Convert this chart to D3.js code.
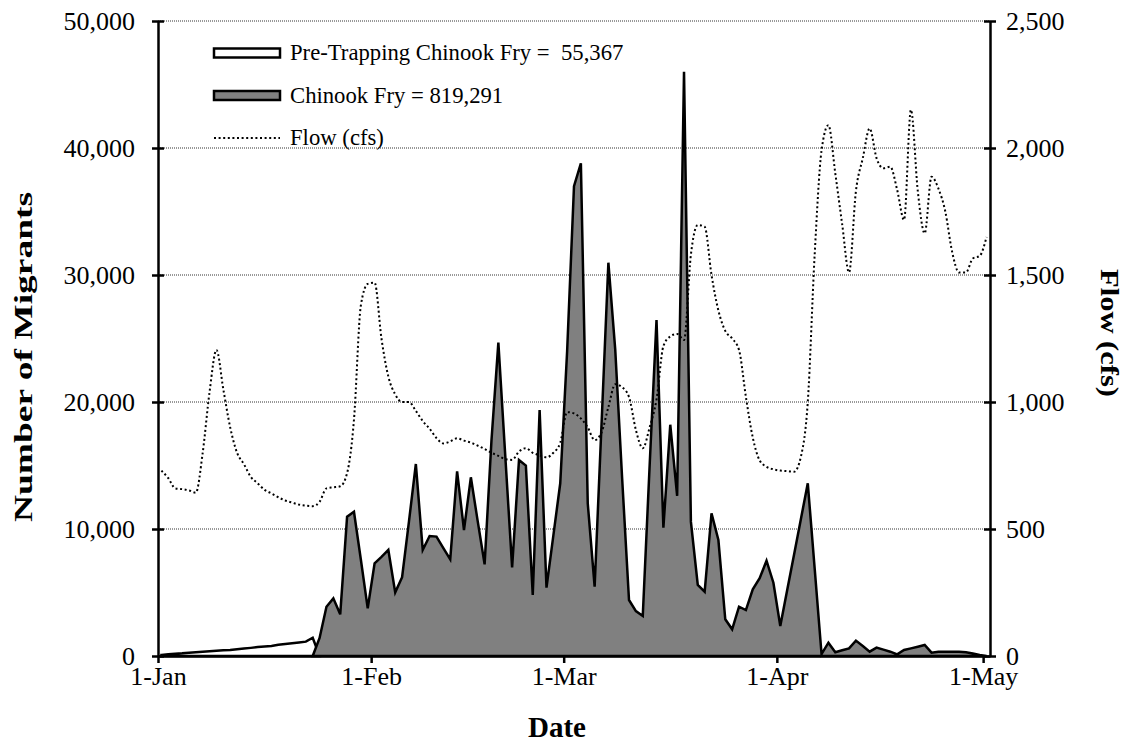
<!DOCTYPE html>
<html lang="en">
<head>
<meta charset="UTF-8">
<title>Chinook Fry Migrants and Flow</title>
<script src="https://cdn.jsdelivr.net/npm/d3@7"></script>
<style>
    body { margin: 0; background: #fff; }
    text { font-family: "Liberation Serif", "Times New Roman", serif; fill: #000; }
    .axis text { font-size: 26px; }
    .axis path, .axis line { stroke: #000; stroke-width: 2.5px; }
    .axis-title { font-size: 29px; font-weight: bold; }
    .axis-title.side { font-size: 26px; }
    .legend text { font-size: 22.7px; white-space: pre; }
    .grid line { stroke: #333; stroke-width: 1px; stroke-dasharray: 1,1; }
</style>
</head>
<body>
<svg id="chart" width="1132" height="756"></svg>
<script>
// daily values, first entry = Jan 1
const startDate = "2019-01-01";

// pre-trapping estimate, Jan 1 .. Jan 24
const preTrapping = [80, 130, 180, 210, 260, 300, 340, 380, 420, 450, 470, 540,
    590, 640, 700, 740, 790, 880, 950, 1000, 1060, 1130, 1440, 0];

// chinook fry catch, Jan 23 .. May 1
const chinookStart = "2019-01-23";
const chinookFry = [0, 1420, 3880, 4540, 3280, 10970, 11360, 7600, 3750,
    7300, 7800, 8350, 5010, 6200, 10600, 15120, 8350, 9450, 9400, 8500, 7610,
    14540, 9920, 14070, 10600, 7220, 17000, 24670, 15800, 6980, 15430, 14990,
    4800, 19370, 5380, 9500, 13600, 24000, 37000, 38800, 12020, 5460, 18200,
    30970, 24100, 14000, 4410, 3540, 3150, 15000, 26460, 10100, 18210, 12600,
    46000, 10580, 5590, 5060, 11230, 9130, 2890, 2100, 3880, 3620, 5250, 6120,
    7500, 5770, 2360, 5170, 7980, 10790, 13600, 6900, 150, 1050, 290, 450,
    600, 1210, 780, 340, 660, 500, 340, 130, 470, 600, 730, 870, 260, 340,
    340, 340, 340, 300, 200, 80, 0];

// river flow (cfs), Jan 1 .. May 1
const flowCfs = [730, 700, 660, 657, 652, 643, 800, 1040, 1205, 1050, 900,
    800, 755, 705, 680, 654, 640, 625, 612, 604, 596, 592, 590, 607, 660, 664,
    668, 720, 930, 1380, 1465, 1470, 1250, 1100, 1030, 1000, 1000, 965, 925,
    895, 858, 837, 845, 857, 848, 840, 828, 815, 800, 788, 775, 772, 805, 818,
    800, 790, 782, 800, 840, 960, 955, 935, 900, 850, 880, 980, 1070, 1058,
    1020, 890, 818, 900, 1010, 1220, 1258, 1268, 1244, 1580, 1697, 1690, 1500,
    1360, 1280, 1250, 1205, 1020, 860, 770, 745, 735, 730, 728, 725, 785,
    1000, 1580, 1990, 2090, 1900, 1700, 1510, 1830, 1960, 2077, 1960, 1920,
    1926, 1835, 1717, 2150, 1830, 1664, 1887, 1840, 1750, 1590, 1510, 1510,
    1565, 1575, 1650];

const dateTicks = ["2019-01-01", "2019-02-01", "2019-03-01", "2019-04-01", "2019-05-01"];
const migrantTicks = [0, 10000, 20000, 30000, 40000, 50000];
const flowTicks = [0, 500, 1000, 1500, 2000, 2500];

const legendItems = [
    { label: "Pre-Trapping Chinook Fry =  55,367", type: "pre" },
    { label: "Chinook Fry = 819,291", type: "fry" },
    { label: "Flow (cfs)", type: "flow" }
];

const parse = d3.timeParse("%Y-%m-%d");
const day0 = parse(startDate);
const fry0 = parse(chinookStart);

const preData = preTrapping.map((v, i) => ({ date: d3.timeDay.offset(day0, i), v }));
const fryData = chinookFry.map((v, i) => ({ date: d3.timeDay.offset(fry0, i), v }));
const flowData = flowCfs.map((v, i) => ({ date: d3.timeDay.offset(day0, i), v }));

const plot = { left: 158, right: 990, top: 21, bottom: 656 };

const svg = d3.select("#chart");

// category-style date axis: each day is a slot, points sit in the middle
const x = d3.scaleTime()
    .domain([day0, d3.timeDay.offset(day0, 121)])
    .range([plot.left, plot.right]);
const xMid = d => x(d3.timeHour.offset(d, 12));

const y = d3.scaleLinear().domain([0, 50000]).range([plot.bottom, plot.top]);
const yFlow = d3.scaleLinear().domain([0, 2500]).range([plot.bottom, plot.top]);

// gridlines
svg.append("g")
    .attr("class", "grid")
    .selectAll("line")
    .data(migrantTicks.slice(1))
    .join("line")
    .attr("x1", plot.left)
    .attr("x2", plot.right)
    .attr("y1", d => y(d))
    .attr("y2", d => y(d));

const area = d3.area()
    .x(d => xMid(d.date))
    .y0(y(0))
    .y1(d => y(d.v));

svg.append("path")
    .datum(preData)
    .attr("d", area)
    .attr("fill", "#fff")
    .attr("stroke", "#000")
    .attr("stroke-width", 2.5)
    .attr("stroke-linejoin", "miter");

svg.append("path")
    .datum(fryData)
    .attr("d", area)
    .attr("fill", "#808080")
    .attr("stroke", "#000")
    .attr("stroke-width", 2.5)
    .attr("stroke-linejoin", "miter");

svg.append("path")
    .datum(flowData)
    .attr("d", d3.line()
        .curve(d3.curveMonotoneX)
        .x(d => xMid(d.date))
        .y(d => yFlow(d.v)))
    .attr("fill", "none")
    .attr("stroke", "#000")
    .attr("stroke-width", 2)
    .attr("stroke-dasharray", "2,2.6");

// axes
const xAxis = svg.append("g")
    .attr("class", "axis")
    .attr("transform", `translate(0,${plot.bottom})`)
    .call(d3.axisBottom(x)
        .tickValues(dateTicks.map(parse))
        .tickFormat(d3.timeFormat("%-d-%b"))
        .tickSize(7)
        .tickSizeOuter(0));
xAxis.selectAll("text").attr("y", 29).attr("dy", 0);

const yAxis = svg.append("g")
    .attr("class", "axis")
    .attr("transform", `translate(${plot.left},0)`)
    .call(d3.axisLeft(y)
        .tickValues(migrantTicks)
        .tickFormat(d3.format(","))
        .tickSize(6)
        .tickSizeOuter(0));
yAxis.selectAll(".tick line").attr("x1", 6);
yAxis.selectAll("text").attr("x", -23);

const yAxisRight = svg.append("g")
    .attr("class", "axis")
    .attr("transform", `translate(${plot.right},0)`)
    .call(d3.axisRight(yFlow)
        .tickValues(flowTicks)
        .tickFormat(d3.format(","))
        .tickSize(6)
        .tickSizeOuter(0));
yAxisRight.selectAll(".tick line").attr("x1", -6);
yAxisRight.selectAll("text").attr("x", 16);

// axis titles (the original lettering is drawn tall and narrow)
svg.append("text")
    .attr("class", "axis-title side")
    .attr("text-anchor", "middle")
    .attr("transform", "translate(32,357) rotate(-90)")
    .attr("textLength", 330)
    .attr("lengthAdjust", "spacingAndGlyphs")
    .text("Number of Migrants");

svg.append("text")
    .attr("class", "axis-title side")
    .attr("text-anchor", "middle")
    .attr("transform", "translate(1101,333) rotate(90)")
    .attr("textLength", 128)
    .attr("lengthAdjust", "spacingAndGlyphs")
    .text("Flow (cfs)");

svg.append("text")
    .attr("class", "axis-title")
    .attr("text-anchor", "middle")
    .attr("x", 557)
    .attr("y", 737)
    .text("Date");

// legend
const legend = svg.append("g")
    .attr("class", "legend")
    .selectAll("g")
    .data(legendItems)
    .join("g")
    .attr("transform", (d, i) => `translate(214,${53 + i * 42.5})`);

legend.filter(d => d.type !== "flow")
    .append("rect")
    .attr("x", 0)
    .attr("y", -4.5)
    .attr("width", 66)
    .attr("height", 9)
    .attr("fill", d => d.type === "pre" ? "#fff" : "#808080")
    .attr("stroke", "#000")
    .attr("stroke-width", 2.5);

legend.filter(d => d.type === "flow")
    .append("line")
    .attr("x1", 0)
    .attr("x2", 66)
    .attr("stroke", "#000")
    .attr("stroke-width", 2)
    .attr("stroke-dasharray", "2,2.6");

legend.append("text")
    .attr("x", 76)
    .attr("y", 7)
    .text(d => d.label);
</script>
</body>
</html>
